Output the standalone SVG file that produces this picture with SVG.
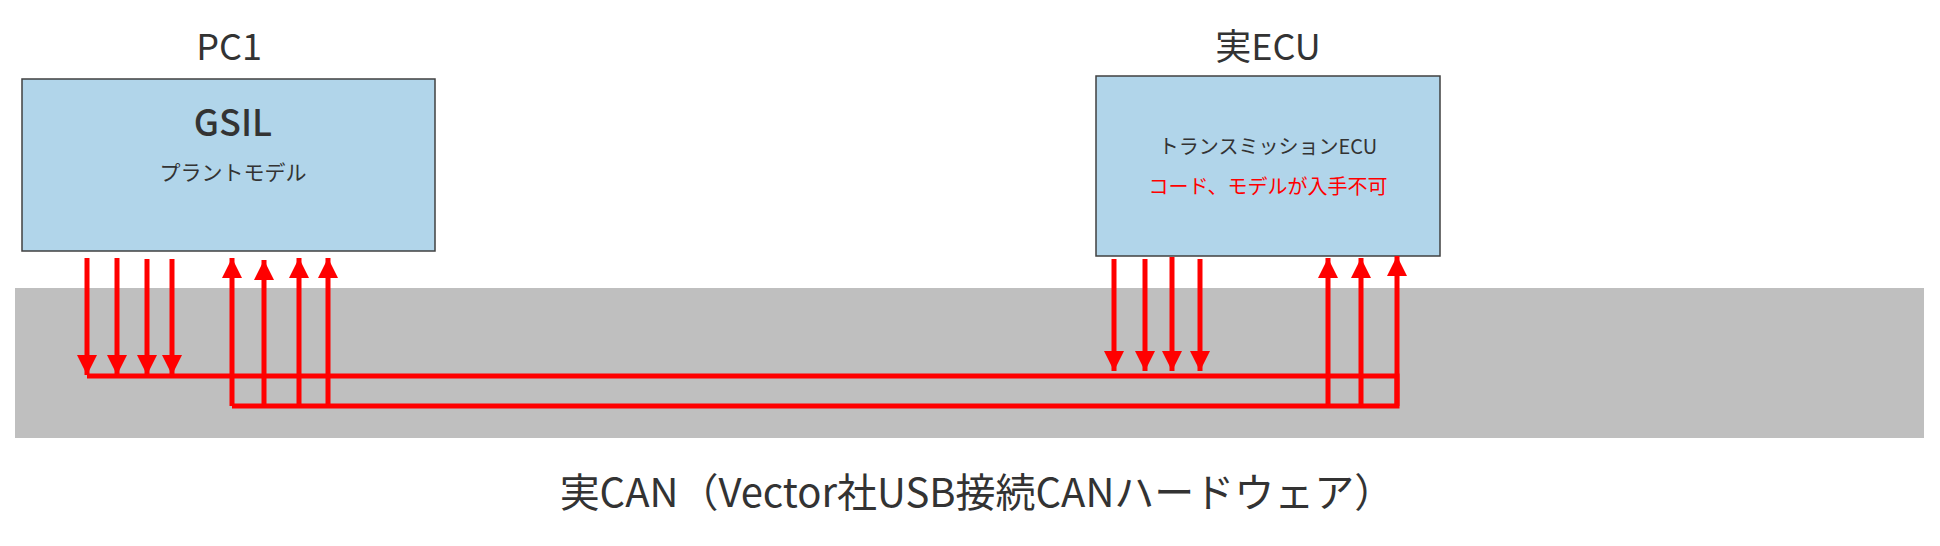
<svg xmlns="http://www.w3.org/2000/svg" width="1940" height="546" viewBox="0 0 1940 546">
<style>
text{font-family:"Noto Sans CJK JP","Noto Sans",sans-serif;fill:#333;text-anchor:middle}
.box{fill:#b1d5ea;stroke:#404040;stroke-width:1.5}
.w{stroke:#ff0000;stroke-width:5;fill:none}
</style>
<defs>
<marker id="ah" markerUnits="userSpaceOnUse" markerWidth="20" markerHeight="22" refX="20" refY="10" orient="auto"><path d="M0,0 L20,10 L0,20 Z" fill="#ff0000"/></marker>
</defs>
<rect x="15" y="288" width="1909" height="150" fill="#bfbfbf"/>
<g id="pc1">
<text x="229" y="60" font-size="36">PC1</text>
<rect class="box" x="22" y="79" width="413" height="172"/>
<text x="233" y="136" font-size="36" font-weight="500">GSIL</text>
<text x="233" y="180" font-size="21">プラントモデル</text>
</g>
<g id="ecu">
<text x="1268" y="60" font-size="36">実ECU</text>
<rect class="box" x="1096" y="76" width="344" height="180"/>
<text x="1268" y="154" font-size="20">トランスミッションECU</text>
<text x="1268" y="194" font-size="20" style="fill:#ff0000">コード、モデルが入手不可</text>
</g>
<g id="can">
<text x="977" y="507" font-size="40">実CAN（Vector社USB接続CANハードウェア）</text>
</g>
<g id="connectors">
<path class="w" d="M87,376 H1397 V406 H232"/>
<path class="w" marker-end="url(#ah)" d="M87,258 V375"/>
<path class="w" marker-end="url(#ah)" d="M117,258 V375"/>
<path class="w" marker-end="url(#ah)" d="M147,259 V375"/>
<path class="w" marker-end="url(#ah)" d="M172,259 V375"/>
<path class="w" marker-end="url(#ah)" d="M232,406 V258"/>
<path class="w" marker-end="url(#ah)" d="M264,406 V260"/>
<path class="w" marker-end="url(#ah)" d="M299,406 V258"/>
<path class="w" marker-end="url(#ah)" d="M328,406 V258"/>
<path class="w" marker-end="url(#ah)" d="M1114,259 V371"/>
<path class="w" marker-end="url(#ah)" d="M1145,259 V371"/>
<path class="w" marker-end="url(#ah)" d="M1172,257 V371"/>
<path class="w" marker-end="url(#ah)" d="M1200,259 V371"/>
<path class="w" marker-end="url(#ah)" d="M1328,406 V258"/>
<path class="w" marker-end="url(#ah)" d="M1361,406 V258"/>
<path class="w" marker-end="url(#ah)" d="M1397,406 V256"/>
</g>
</svg>
